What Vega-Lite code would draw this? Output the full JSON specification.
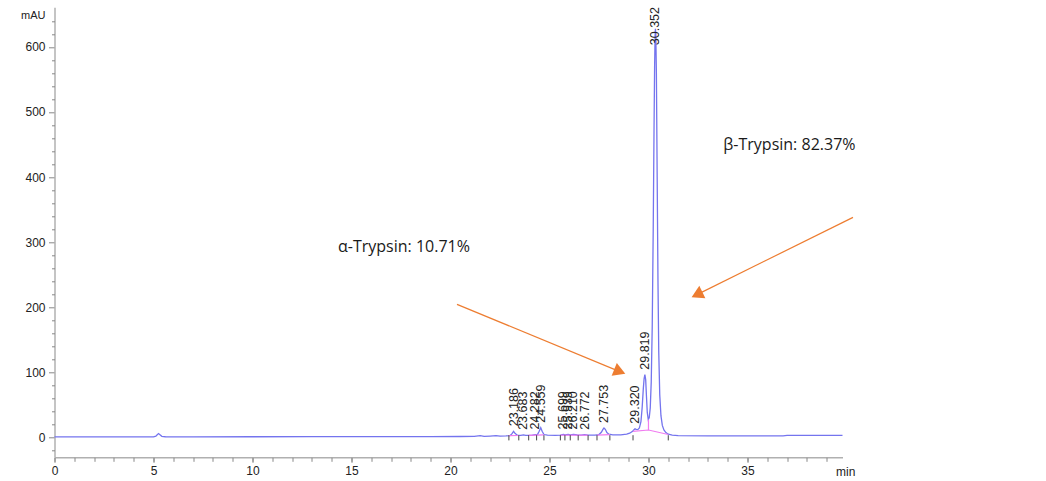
{
  "$schema": "https://vega.github.io/schema/vega-lite/v6.json",
  "width": 788,
  "height": 450,
  "autosize": {"type": "none"},
  "padding": {"left": 54.5, "top": 7.3, "right": 203.5, "bottom": 23.7},
  "background": "white",
  "config": {
    "view": {"stroke": null},
    "axis": {"grid": false, "labelFont": "Liberation Sans", "titleFont": "Liberation Sans", "labelColor": "#222", "titleColor": "#222"}
  },
  "datasets": {
    "trace": [
      {"t": 0, "v": 0.3}, {"t": 2, "v": 0.3}, {"t": 4, "v": 0.4}, {"t": 5.0, "v": 0.5}, {"t": 5.12, "v": 1.5},
      {"t": 5.2, "v": 4}, {"t": 5.26, "v": 5.5}, {"t": 5.33, "v": 3.5}, {"t": 5.42, "v": 1.2}, {"t": 5.6, "v": 0.6},
      {"t": 7, "v": 0.5}, {"t": 10, "v": 0.6}, {"t": 13, "v": 0.7}, {"t": 16, "v": 0.8}, {"t": 19, "v": 0.9},
      {"t": 20.5, "v": 1.0}, {"t": 21.2, "v": 1.2}, {"t": 21.5, "v": 2.2}, {"t": 21.7, "v": 1.2}, {"t": 22.0, "v": 1.6},
      {"t": 22.3, "v": 2.2}, {"t": 22.5, "v": 1.5}, {"t": 22.8, "v": 1.8}, {"t": 23.0, "v": 2.2}, {"t": 23.1, "v": 5},
      {"t": 23.186, "v": 9}, {"t": 23.27, "v": 5.5}, {"t": 23.38, "v": 3}, {"t": 23.55, "v": 2.6}, {"t": 23.683, "v": 3.5},
      {"t": 23.8, "v": 2.6}, {"t": 24.1, "v": 2.8}, {"t": 24.282, "v": 4}, {"t": 24.4, "v": 4.2}, {"t": 24.48, "v": 9},
      {"t": 24.559, "v": 14.5}, {"t": 24.63, "v": 9}, {"t": 24.72, "v": 4}, {"t": 24.9, "v": 3}, {"t": 25.3, "v": 2.8},
      {"t": 25.55, "v": 3}, {"t": 25.699, "v": 4.2}, {"t": 25.8, "v": 3.6}, {"t": 25.939, "v": 4.2}, {"t": 26.06, "v": 3.4},
      {"t": 26.21, "v": 4.2}, {"t": 26.4, "v": 3.3}, {"t": 26.6, "v": 3.2}, {"t": 26.772, "v": 3.8}, {"t": 26.95, "v": 3},
      {"t": 27.3, "v": 3}, {"t": 27.5, "v": 4}, {"t": 27.62, "v": 7.5}, {"t": 27.7, "v": 12}, {"t": 27.753, "v": 14},
      {"t": 27.82, "v": 12}, {"t": 27.9, "v": 7}, {"t": 28.0, "v": 4.5}, {"t": 28.2, "v": 3.5}, {"t": 28.6, "v": 3.5},
      {"t": 28.9, "v": 4.5}, {"t": 29.05, "v": 6}, {"t": 29.18, "v": 8.5}, {"t": 29.27, "v": 11.5}, {"t": 29.32, "v": 13},
      {"t": 29.38, "v": 12}, {"t": 29.46, "v": 11.5}, {"t": 29.54, "v": 14}, {"t": 29.62, "v": 24}, {"t": 29.68, "v": 45},
      {"t": 29.74, "v": 75}, {"t": 29.78, "v": 90}, {"t": 29.819, "v": 96}, {"t": 29.86, "v": 88}, {"t": 29.9, "v": 62},
      {"t": 29.94, "v": 38}, {"t": 29.99, "v": 27}, {"t": 30.04, "v": 30}, {"t": 30.09, "v": 45}, {"t": 30.14, "v": 85},
      {"t": 30.19, "v": 170}, {"t": 30.24, "v": 320}, {"t": 30.28, "v": 470}, {"t": 30.31, "v": 570}, {"t": 30.335, "v": 618},
      {"t": 30.352, "v": 628}, {"t": 30.37, "v": 620}, {"t": 30.4, "v": 560}, {"t": 30.44, "v": 400}, {"t": 30.48, "v": 240},
      {"t": 30.52, "v": 130}, {"t": 30.57, "v": 65}, {"t": 30.63, "v": 33}, {"t": 30.7, "v": 18}, {"t": 30.78, "v": 11},
      {"t": 30.88, "v": 7}, {"t": 31.0, "v": 4.5}, {"t": 31.2, "v": 3}, {"t": 31.5, "v": 2.4}, {"t": 33, "v": 2.1},
      {"t": 35, "v": 2}, {"t": 36.8, "v": 2}, {"t": 37.0, "v": 2.6}, {"t": 38.5, "v": 2.7}, {"t": 39.8, "v": 2.8}
    ],
    "baseline": [
      {"seg": "a", "t": 22.95, "v": 2.2}, {"seg": "a", "t": 23.45, "v": 2.5},
      {"seg": "b", "t": 23.95, "v": 2.8}, {"seg": "b", "t": 24.72, "v": 3.6},
      {"seg": "c", "t": 25.55, "v": 3}, {"seg": "c", "t": 26.95, "v": 3},
      {"seg": "d", "t": 27.4, "v": 3}, {"seg": "d", "t": 28.05, "v": 4},
      {"seg": "e", "t": 29.22, "v": 9}, {"seg": "e", "t": 30.0, "v": 11}, {"seg": "e", "t": 31.0, "v": 4}
    ],
    "drops": [
      {"t": 30.0, "lo": 11, "hi": 27}
    ],
    "bounds": [
      {"t": 22.95}, {"t": 23.45}, {"t": 23.95}, {"t": 24.35}, {"t": 24.72}, {"t": 25.55}, {"t": 25.78},
      {"t": 26.05}, {"t": 26.45}, {"t": 26.95}, {"t": 27.4}, {"t": 28.05}, {"t": 29.22}, {"t": 31.0}
    ],
    "peaks": [
      {"rt": 23.186, "height": 9, "label": "23.186"},
      {"rt": 23.683, "height": 3.5, "label": "23.683"},
      {"rt": 24.282, "height": 4, "label": "24.282"},
      {"rt": 24.559, "height": 14.5, "label": "24.559"},
      {"rt": 25.699, "height": 4.2, "label": "25.699"},
      {"rt": 25.939, "height": 4.2, "label": "25.939"},
      {"rt": 26.21, "height": 4.2, "label": "26.210"},
      {"rt": 26.772, "height": 3.8, "label": "26.772"},
      {"rt": 27.753, "height": 14, "label": "27.753"},
      {"rt": 29.32, "height": 13, "label": "29.320"},
      {"rt": 29.819, "height": 96, "label": "29.819"},
      {"rt": 30.352, "height": 628, "label": "30.352"}
    ],
    "arrows": [
      {"id": "alpha", "x1": 20.33, "y1": 204.2, "x2": 28.55, "y2": 100.8},
      {"id": "beta", "x1": 40.33, "y1": 338.0, "x2": 32.45, "y2": 219.2}
    ],
    "notes": [
      {"x": 14.32, "y": 284.2, "text": "α-Trypsin: 10.71%"},
      {"x": 33.78, "y": 442.2, "text": "β-Trypsin: 82.37%"}
    ]
  },
  "resolve": {"axis": {"x": "independent", "y": "independent"}},
  "layer": [
    {
      "data": {"name": "trace"},
      "mark": {"type": "line", "color": "#7474ee", "strokeWidth": 1.3},
      "encoding": {
        "x": {"field": "t", "type": "quantitative",
          "scale": {"domain": [0, 39.8], "nice": false, "zero": false},
          "axis": {"orient": "bottom", "values": [0, 5, 10, 15, 20, 25, 30, 35], "domainColor": "#b0b0b0", "domainWidth": 1.5,
            "tickColor": "#888", "tickSize": 5, "labelFontSize": 12, "labelPadding": 3, "labelFlush": false,
            "title": "min", "titleFontSize": 12, "titleFontWeight": "normal", "titleAnchor": null, "titleX": 781, "titleY": 14,
            "titleAlign": "left", "titleBaseline": "middle"}},
        "y": {"field": "v", "type": "quantitative",
          "scale": {"domain": [-31, 661], "nice": false, "zero": false},
          "axis": {"orient": "left", "values": [0, 100, 200, 300, 400, 500, 600], "domainColor": "#b0b0b0", "domainWidth": 1.5,
            "tickColor": "#888", "tickSize": 6, "labelFontSize": 12, "labelPadding": 3.5,
            "title": "mAU", "titleFontSize": 11, "titleFontWeight": "normal", "titleAngle": 0, "titleAnchor": null,
            "titleX": -9.5, "titleY": 8, "titleAlign": "right", "titleBaseline": "middle"}}
      }
    },
    {
      "data": {"name": "baseline"},
      "mark": {"type": "line", "color": "#f07cf0", "strokeWidth": 1.2},
      "encoding": {
        "x": {"field": "t", "type": "quantitative",
          "axis": {"orient": "bottom", "values": [0,1,2,3,4,5,6,7,8,9,10,11,12,13,14,15,16,17,18,19,20,21,22,23,24,25,26,27,28,29,30,31,32,33,34,35,36,37,38,39],
            "domain": false, "labels": false, "tickColor": "#888", "tickSize": 4, "title": null}},
        "y": {"field": "v", "type": "quantitative",
          "axis": {"orient": "left", "values": [-20,20,40,60,80,120,140,160,180,220,240,260,280,320,340,360,380,420,440,460,480,520,540,560,580,620,640],
            "domain": false, "labels": false, "tickColor": "#888", "tickSize": 3, "title": null}},
        "detail": {"field": "seg"}
      }
    },
    {
      "data": {"name": "drops"},
      "mark": {"type": "rule", "color": "#f07cf0", "strokeWidth": 1.2},
      "encoding": {
        "x": {"field": "t", "type": "quantitative", "axis": null},
        "y": {"field": "lo", "type": "quantitative", "axis": null},
        "y2": {"field": "hi"}
      }
    },
    {
      "data": {"name": "bounds"},
      "mark": {"type": "rule", "color": "#444", "strokeWidth": 1},
      "encoding": {
        "x": {"field": "t", "type": "quantitative", "axis": null},
        "y": {"datum": 3, "type": "quantitative", "axis": null},
        "y2": {"datum": -5}
      }
    },
    {
      "data": {"name": "peaks"},
      "transform": [{"calculate": "min(datum.height, 595)", "as": "labelAt"}],
      "mark": {"type": "text", "angle": 270, "align": "left", "baseline": "middle", "dx": 5,
        "font": "Liberation Sans", "fontSize": 12.5, "color": "#222"},
      "encoding": {
        "x": {"field": "rt", "type": "quantitative", "axis": null},
        "y": {"field": "labelAt", "type": "quantitative", "axis": null},
        "text": {"field": "label"}
      }
    },
    {
      "data": {"name": "arrows"},
      "mark": {"type": "rule", "color": "#ed7d31", "strokeWidth": 1.2},
      "encoding": {
        "x": {"field": "x1", "type": "quantitative", "axis": null},
        "y": {"field": "y1", "type": "quantitative", "axis": null},
        "x2": {"field": "x2"},
        "y2": {"field": "y2"}
      }
    },
    {
      "data": {"name": "arrows"},
      "transform": [{"filter": "datum.id == 'alpha'"}],
      "mark": {"type": "point", "shape": "triangle-right", "filled": true, "color": "#ed7d31", "opacity": 1, "size": 190, "angle": 22},
      "encoding": {
        "x": {"field": "x2", "type": "quantitative", "axis": null},
        "y": {"field": "y2", "type": "quantitative", "axis": null}
      }
    },
    {
      "data": {"name": "arrows"},
      "transform": [{"filter": "datum.id == 'beta'"}],
      "mark": {"type": "point", "shape": "triangle-right", "filled": true, "color": "#ed7d31", "opacity": 1, "size": 190, "angle": 154},
      "encoding": {
        "x": {"field": "x2", "type": "quantitative", "axis": null},
        "y": {"field": "y2", "type": "quantitative", "axis": null}
      }
    },
    {
      "data": {"name": "notes"},
      "mark": {"type": "text", "align": "left", "baseline": "alphabetic", "font": "Open Sans", "fontSize": 16, "color": "#1a1a1a"},
      "encoding": {
        "x": {"field": "x", "type": "quantitative", "axis": null},
        "y": {"field": "y", "type": "quantitative", "axis": null},
        "text": {"field": "text"}
      }
    }
  ]
}
